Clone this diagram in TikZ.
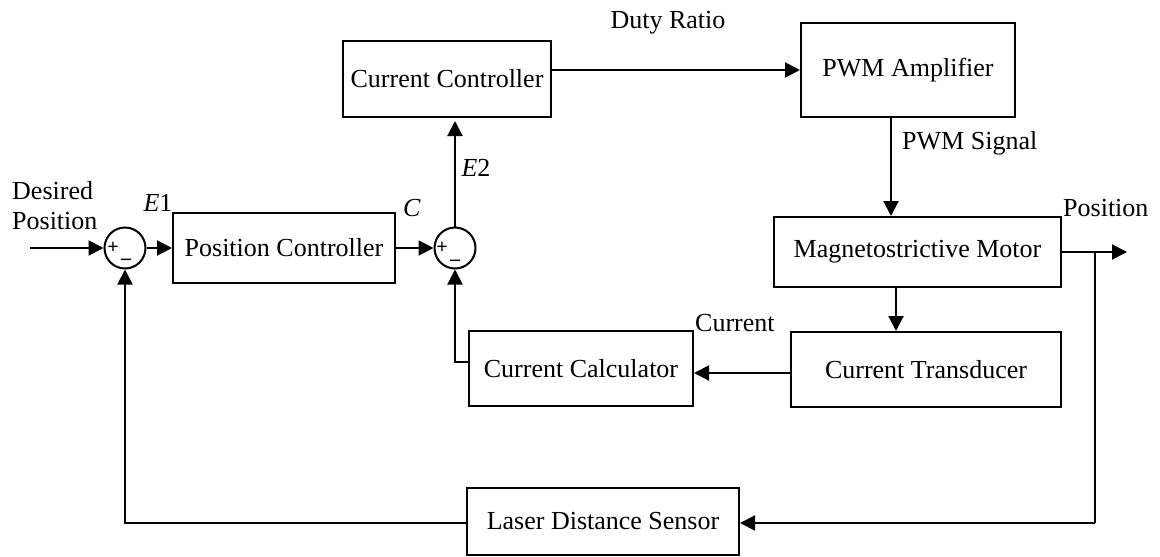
\documentclass[tikz,border=0pt]{standalone}
\usepackage{fontspec}
\setmainfont{Liberation Serif}
\usetikzlibrary{arrows.meta,calc}
\begin{document}
\begin{tikzpicture}[x=1pt,y=-1pt,
  every node/.style={font=\fontsize{26}{30}\selectfont, inner sep=0pt},
  blk/.style={draw, line width=2pt, rectangle},
  sumc/.style={draw, line width=2pt, circle, minimum size=41pt},
  conn/.style={line width=2pt},
  arr/.style={line width=2pt, -{Triangle[length=15pt,width=15pt]}},
  sgn/.style={font=\fontsize{20}{20}\selectfont\bfseries}
]
\useasboundingbox (0,0) rectangle (1160,557);

% blocks
\node[blk, minimum width=222pt, minimum height=70pt] (pc) at (284,248) {Position Controller};
\node[blk, minimum width=208pt, minimum height=76pt] (cc) at (447,79) {Current Controller};
\node[blk, minimum width=214pt, minimum height=94pt] (pwm) at (908,70) {PWM Amplifier};
\node[blk, minimum width=287pt, minimum height=70pt] (mm) at (917.5,252) {Magnetostrictive Motor};
\node[blk, minimum width=270pt, minimum height=75pt] (ct) at (926,369.5) {Current Transducer};
\node[blk, minimum width=224pt, minimum height=75pt] (calc) at (581,368.5) {Current Calculator};
\node[blk, minimum width=272pt, minimum height=67pt] (lds) at (603,521.5) {Laser Distance Sensor};

% summing junctions
\node[sumc] (s1) at (125,248) {};
\node[sgn] (s1p) at (113,248) {+};
\node[sgn] (s1m) at (126,262) {--};
\node[sumc] (s2) at (455,248) {};
\node[sgn] (s2p) at (442,248) {+};
\node[sgn] (s2m) at (455,263) {--};

% coordinates
\coordinate (inp) at (30,248);
\coordinate (out) at (1127,252);
\coordinate (jn) at (1095,252);
\coordinate (jb) at (1095,523);
\coordinate (lb) at (125,523);
\coordinate (pwmx) at (891,0);
\coordinate (mmx) at (896,0);
\coordinate (cbl) at (455,362);
\coordinate (cbr) at (469,362);
\coordinate (ctl) at (791,373);

% connectors
\draw[arr] (inp) -- (s1.west);
\draw[arr] (s1.east) -- (pc.west);
\draw[arr] (pc.east) -- (s2.west);
\draw[arr, shorten >=3pt] (s2.north) -- (s2.north |- cc.south);
\draw[arr] (cc.east |- pwm.west) -- (pwm.west);
\draw[arr] (pwm.south -| pwmx) -- (mm.north -| pwmx);
\draw[arr] (mm.east) -- (out);
\draw[conn] (jn) -- (jb);
\draw[arr] (jb) -- (lds.east |- jb);
\draw[arr] (mm.south -| mmx) -- (ct.north -| mmx);
\draw[arr] (ctl) -- (calc.east |- ctl);
\draw[arr] (cbr) -- (cbl) -- (s2.south);
\draw[arr] (lds.west |- lb) -- (lb) -- (s1.south);

% labels
\node[anchor=west, align=left] (dp) at (12,206) {Desired\\Position};
\node (e1) at (158,203) {\textit{E}1};
\node (cl) at (412,208) {\textit{C}};
\node (e2) at (476,168) {\textit{E}2};
\node (dr) at (668,23) {Duty Ratio};
\node[anchor=west] (ps) at (902,143) {PWM Signal};
\node[anchor=west] (pos) at (1063,208) {Position};
\node[anchor=west] (cur) at (695,323) {Current};
\end{tikzpicture}
\end{document}
